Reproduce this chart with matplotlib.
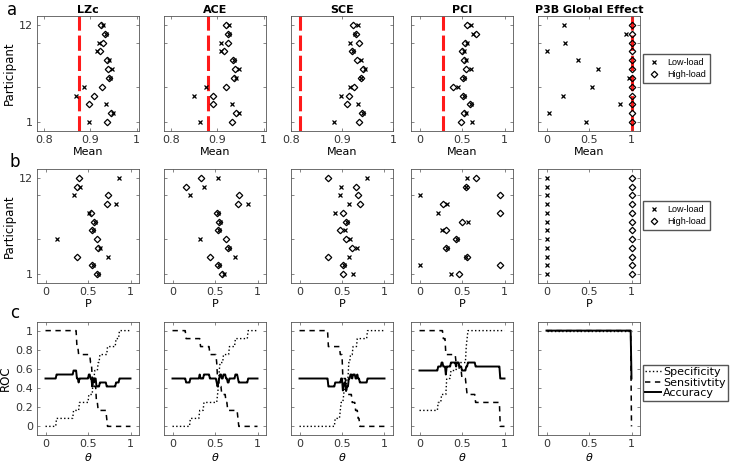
import numpy as np
import matplotlib
matplotlib.use('Agg')
import matplotlib.pyplot as plt

# participants, listed from top row (12) down to 1
rows = np.arange(12, 0, -1)
measures = ['LZc', 'ACE', 'SCE', 'PCI', 'P3B Global Effect']

## a: mean per participant
lzc_mean_low = [0.927, 0.933, 0.919, 0.915, 0.941, 0.946, 0.943, 0.886, 0.869, 0.933, 0.948, 0.898]
lzc_mean_high = [0.923, 0.931, 0.927, 0.921, 0.935, 0.939, 0.941, 0.925, 0.908, 0.898, 0.944, 0.937]
ace_mean_low = [0.926, 0.926, 0.907, 0.907, 0.937, 0.947, 0.941, 0.876, 0.850, 0.931, 0.947, 0.863]
ace_mean_high = [0.919, 0.924, 0.924, 0.914, 0.934, 0.938, 0.937, 0.919, 0.891, 0.890, 0.941, 0.931]
sce_mean_low = [0.931, 0.925, 0.916, 0.921, 0.937, 0.945, 0.937, 0.916, 0.899, 0.932, 0.941, 0.884]
sce_mean_high = [0.921, 0.928, 0.934, 0.919, 0.929, 0.942, 0.937, 0.923, 0.914, 0.910, 0.939, 0.934]
pci_mean_low = [0.61, 0.63, 0.56, 0.52, 0.55, 0.60, 0.52, 0.45, 0.52, 0.60, 0.55, 0.62]
pci_mean_high = [0.56, 0.66, 0.53, 0.50, 0.52, 0.55, 0.51, 0.39, 0.51, 0.59, 0.52, 0.49]
p3b_mean_low = [0.20, 0.93, 0.22, 0.0, 0.37, 0.61, 0.97, 0.53, 0.19, 0.86, 0.03, 0.46]
p3b_mean_high = [1.0] * 12
thresholds = [0.875, 0.879, 0.818, 0.28, 1.0]

## b: P per participant
lzc_p_low = [0.87, 0.40, 0.33, 0.83, 0.51, 0.58, 0.56, 0.13, 0.64, 0.73, 0.56, 0.62]
lzc_p_high = [0.39, 0.37, 0.73, 0.72, 0.53, 0.57, 0.55, 0.60, 0.62, 0.37, 0.55, 0.60]
ace_p_low = [0.54, 0.37, 0.21, 0.89, 0.53, 0.56, 0.55, 0.32, 0.67, 0.74, 0.55, 0.60]
ace_p_high = [0.33, 0.16, 0.78, 0.77, 0.52, 0.55, 0.53, 0.63, 0.65, 0.44, 0.53, 0.58]
sce_p_low = [0.80, 0.49, 0.48, 0.58, 0.42, 0.56, 0.53, 0.60, 0.68, 0.58, 0.52, 0.63]
sce_p_high = [0.34, 0.66, 0.69, 0.71, 0.51, 0.55, 0.48, 0.55, 0.62, 0.34, 0.51, 0.51]
pci_p_low = [0.56, 0.55, 0.0, 0.32, 0.22, 0.57, 0.26, 0.44, 0.32, 0.55, 0.0, 0.37]
pci_p_high = [0.66, 0.55, 0.95, 0.28, 0.95, 0.50, 0.31, 0.43, 0.31, 0.56, 0.95, 0.47]
p3b_p_low = [0.0] * 12
p3b_p_high = [1.0] * 12

mean_low = [lzc_mean_low, ace_mean_low, sce_mean_low, pci_mean_low, p3b_mean_low]
mean_high = [lzc_mean_high, ace_mean_high, sce_mean_high, pci_mean_high, p3b_mean_high]
p_low = [lzc_p_low, ace_p_low, sce_p_low, pci_p_low, p3b_p_low]
p_high = [lzc_p_high, ace_p_high, sce_p_high, pci_p_high, p3b_p_high]

theta = np.linspace(0, 1, 101)

W, H = 730, 466
def pos(l, t, w, h):
    return [l / W, 1 - (t + h) / H, w / W, h / H]

col_left = [37, 164, 291, 411, 538]
col_w = 102
row_top = [16, 169, 322]
row_h = [115, 114, 113]
tickcol = '#333333'

fig = plt.figure(figsize=(7.3, 4.66), dpi=100)

def style(ax):
    ax.tick_params(direction='in', top=True, right=True, length=2.5, width=0.5,
                   labelsize=8, labelcolor=tickcol, colors='#555555', pad=3)
    ax.tick_params(which='minor', direction='in', right=True, length=2.5, width=0.5, colors='#555555')
    for s in ax.spines.values():
        s.set_linewidth(0.6)
        s.set_color('#555555')

xlims_a = [(0.785, 1.005), (0.785, 1.005), (0.8, 1.0), (-0.1, 1.1), (-0.1, 1.1)]
xticks_a = [[0.8, 0.9, 1], [0.8, 0.9, 1], [0.8, 0.9, 1], [0, 0.5, 1], [0, 0.5, 1]]
xtl_a = [['0.8', '0.9', '1'], ['0.8', '0.9', '1'], ['0.8', '0.9', '1'], ['0', '0.5', '1'], ['0', '0.5', '1']]

for r in range(2):
    for i in range(5):
        ax = fig.add_axes(pos(col_left[i], row_top[r], col_w, row_h[r]))
        if r == 0:
            lo, hi = mean_low[i], mean_high[i]
        else:
            lo, hi = p_low[i], p_high[i]
        ax.plot(lo, rows, 'x', color='k', ms=3.5, mew=0.9, label='Low-load')
        ax.plot(hi, rows, 'D', color='k', mfc='none', ms=3.3, mew=0.9, label='High-load')
        if r == 0:
            ax.axvline(thresholds[i], color='#ff1a1a', lw=2.2, dashes=(5, 1.6), zorder=0)
            ax.set_xlim(*xlims_a[i])
            ax.set_xticks(xticks_a[i])
            ax.set_xticklabels(xtl_a[i])
            ax.set_xlabel('Mean', fontsize=8, labelpad=1)
            ax.set_title(measures[i], fontsize=8, fontweight='bold', pad=2)
        else:
            ax.set_xlim(-0.1, 1.1)
            ax.set_xticks([0, 0.5, 1])
            ax.set_xticklabels(['0', '0.5', '1'])
            ax.set_xlabel('P', fontsize=8, labelpad=1)
        ax.set_ylim(0, 13)
        ax.set_yticks([1, 12])
        ax.set_yticks([5, 10], minor=True)
        style(ax)
        if i == 0:
            ax.set_yticklabels(['1', '12'])
            ax.set_ylabel('Participant', fontsize=8.5, labelpad=2)
        else:
            ax.set_yticklabels([])
        if i == 4:
            fig.legend(handles=ax.get_lines()[:2], loc='upper left',
                       bbox_to_anchor=(643 / W, 1 - (54 if r == 0 else 201) / H),
                       prop={'family': 'Liberation Sans', 'size': 6.5}, frameon=True,
                       fancybox=False, edgecolor='#555555', framealpha=1,
                       handlelength=1.6, handletextpad=0.6, borderpad=0.45,
                       labelspacing=0.35, borderaxespad=0)

## c: ROC curves built from the P values above
for i in range(5):
    ax = fig.add_axes(pos(col_left[i], row_top[2], col_w, row_h[2]))
    lo = np.array(p_low[i])
    hi = np.array(p_high[i])
    spec = np.array([np.mean(lo <= t + 1e-9) for t in theta])
    sens = np.array([np.mean(hi > t + 1e-9) for t in theta])
    acc = (spec + sens) / 2
    ax.plot(theta, spec, ':', color='k', lw=1.0, label='Specificity')
    ax.plot(theta, sens, color='k', lw=1.1, dashes=(3.5, 3), label='Sensitivtity')
    ax.plot(theta, acc, '-', color='k', lw=1.4, label='Accuracy')
    ax.set_xlim(-0.1, 1.1)
    ax.set_ylim(-0.09, 1.09)
    ax.set_xticks([0, 0.5, 1])
    ax.set_xticklabels(['0', '0.5', '1'])
    ax.set_yticks([0, 0.2, 0.4, 0.6, 0.8, 1])
    ax.set_xlabel(r'$\theta$', fontsize=8, labelpad=1)
    style(ax)
    if i == 0:
        ax.set_yticklabels(['0', '0.2', '0.4', '0.6', '0.8', '1'])
        ax.set_ylabel('ROC', fontsize=8.5, labelpad=2)
    else:
        ax.set_yticklabels([])
    if i == 4:
        fig.legend(handles=ax.get_lines(), loc='upper left',
                   bbox_to_anchor=(643 / W, 1 - 365 / H),
                   prop={'size': 8}, frameon=True, fancybox=False, edgecolor='#555555',
                   framealpha=1, handlelength=1.4, handletextpad=0.2, borderpad=0.2,
                   labelspacing=0.05, borderaxespad=0)

fig.text(12 / W, 1 - 10 / H, 'a', fontsize=12, ha='center', va='center')
fig.text(15 / W, 1 - 162 / H, 'b', fontsize=12, ha='center', va='center')
fig.text(15 / W, 1 - 313 / H, 'c', fontsize=12, ha='center', va='center')

fig.savefig('out.png', dpi=100)
